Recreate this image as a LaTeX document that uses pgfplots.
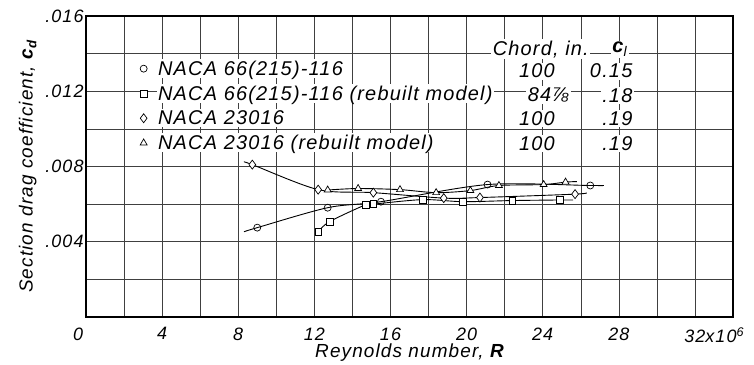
\documentclass[border=0pt]{standalone}
\usepackage{pgfplots}
\pgfplotsset{compat=1.18}
\usepackage{fontspec}
\setmainfont{Liberation Sans}[LetterSpace=6]

\pgfplotstableread{
x y
9.0 0.00475
12.7 0.00581
15.5 0.00613
21.1 0.00704
26.5 0.00699
}\circdata
\pgfplotstableread{
x y
12.2 0.00453
12.8 0.00507
14.7 0.00597
15.1 0.00600
17.7 0.00624
19.8 0.00613
22.4 0.00619
24.9 0.00622
}\sqdata
\pgfplotstableread{
x y
8.74 0.00810
12.2 0.00677
15.1 0.00661
18.8 0.00632
20.7 0.00635
25.7 0.00653
}\diadata
\pgfplotstableread{
x y
12.7 0.00675
14.3 0.00683
16.5 0.00677
18.4 0.00661
20.2 0.00672
21.7 0.00699
24.05 0.00704
25.2 0.00717
}\tridata

\newcommand{\lgfont}{\fontsize{20}{22}\selectfont\itshape}

\begin{document}
\begin{tikzpicture}
\begin{axis}[
    scale only axis,
    width=647bp, height=301bp,
    xmin=0, xmax=34, ymin=0, ymax=0.016,
    scaled y ticks=false,
    xtick={0,4,...,32},
    minor xtick={2,6,...,34},
    xticklabels={\makebox[0pt][r]{0\hspace{3bp}},4,8,12,16,20,24,28,32\rlap{x10\textsuperscript{6}}},
    ytick={0,0.004,0.008,0.012,0.016},
    minor ytick={0.002,0.006,0.010,0.014},
    yticklabels={,.004,.008,.012,.016},
    grid=both,
    grid style={black!75, line width=0.5bp},
    minor grid style={black!75, line width=0.5bp},
    major tick length=0pt, minor tick length=0pt,
    axis line style={line width=1.2bp},
    tick label style={font=\fontsize{18}{20}\selectfont\itshape},
    xticklabel style={yshift=-7bp},
    yticklabel style={xshift=1bp},
    xlabel={Reynolds number, \textbf{\textit{R}}},
    xlabel style={yshift=6bp},
    ylabel={Section drag coefficient, \textbf{\textit{c}}\textsubscript{\textbf{\textit{d}}}},
    ylabel style={yshift=2bp},
    label style={font=\fontsize{19}{21}\selectfont\itshape},
    every axis plot/.append style={black},
    legend cell align=left,
    legend image code/.code={\draw[#1, only marks] plot coordinates {(0bp,0bp)};
        \path[draw=none, fill=none] (-5bp,0bp) -- (13bp,0bp);},
    legend style={at={(axis cs:2.6,0.01382)}, anchor=north west,
        draw=none, fill=none, font=\lgfont, row sep=6bp,
        nodes={fill=white, inner sep=1.5bp}},
]
% faired curves
\addplot[smooth, line width=0.9bp, forget plot] coordinates {
    (8.3,0.00453) (9.0,0.00475) (12.7,0.00581) (15.5,0.00613)
    (21.1,0.00704) (26.5,0.00699) (27.2,0.00699)};
\addplot[smooth, line width=0.9bp, forget plot] coordinates {
    (12.2,0.00453) (12.8,0.00507) (14.7,0.00597) (15.1,0.00600)
    (17.7,0.00624) (19.8,0.00613) (22.4,0.00619) (24.9,0.00622) (25.6,0.00622)};
\addplot[smooth, line width=0.9bp, forget plot] coordinates {
    (8.3,0.00824) (8.74,0.00810) (12.2,0.00677) (15.1,0.00661)
    (18.8,0.00632) (20.7,0.00635) (25.7,0.00653) (26.3,0.00661)};
\addplot[smooth, line width=0.9bp, forget plot] coordinates {
    (12.7,0.00675) (14.3,0.00683) (16.5,0.00677) (18.4,0.00661)
    (20.2,0.00672) (21.7,0.00699) (24.05,0.00704) (25.2,0.00717) (25.8,0.00720)};
% test points
\addplot[only marks, mark=o, mark size=3.5bp, mark options={fill=white, line width=0.7bp}] table {\circdata};
\addlegendentry{NACA 66(215)-116}
\addplot[only marks, mark=square*, mark size=3.3bp, mark options={fill=white, line width=0.7bp}] table {\sqdata};
\addlegendentry{NACA 66(215)-116 (rebuilt model)}
\addplot[only marks, mark=diamond*, mark size=4.5bp, mark options={fill=white, line width=0.7bp}] table {\diadata};
\addlegendentry{NACA 23016}
\addplot[only marks, mark=triangle*, mark size=4bp, mark options={fill=white, line width=0.7bp}] table {\tridata};
\addlegendentry{NACA 23016 (rebuilt model)}

\begin{scope}[every node/.style={font=\lgfont, fill=white, inner sep=1.5bp}]
\node at (axis cs:23.9,0.01424) {Chord, in.};
\node at (axis cs:28.05,0.01424) {\textbf{\textit{c}}\textsubscript{\textit{l}}};
\node at (axis cs:23.7,0.01307) {100};
\node at (axis cs:24.3,0.01179) {84⅞};
\node at (axis cs:23.7,0.01056) {100};
\node at (axis cs:23.7,0.00923) {100};
\node[anchor=east] at (axis cs:28.8,0.01307) {0.15};
\node[anchor=east] at (axis cs:28.8,0.01179) {.18};
\node[anchor=east] at (axis cs:28.8,0.01056) {.19};
\node[anchor=east] at (axis cs:28.8,0.00923) {.19};
\end{scope}
\end{axis}
\pgfresetboundingbox
\path[use as bounding box] ([shift={(-86bp,-48bp)}]current axis.south west)
    rectangle ([shift={(21bp,16bp)}]current axis.north east);
\end{tikzpicture}
\end{document}
